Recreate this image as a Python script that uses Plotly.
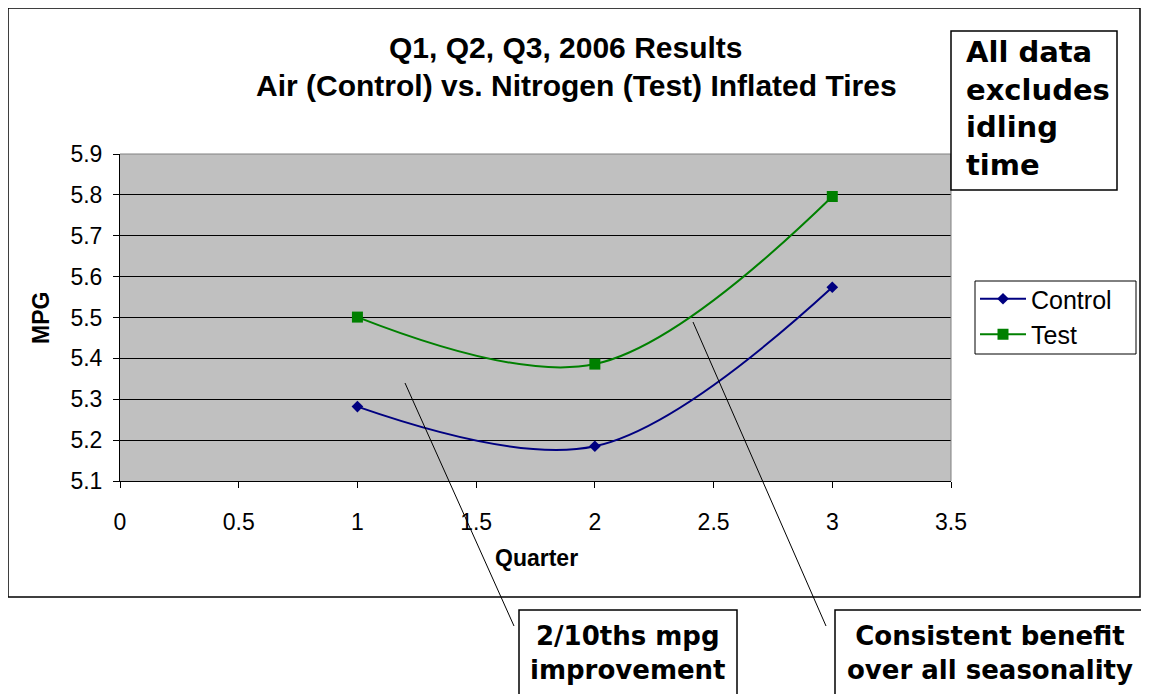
import plotly.graph_objects as go

# the page puts the figure 8px in from the top-left corner
OFF = 8
W, H = 1149 - OFF, 694 - OFF

# data
quarters = [1, 2, 3]
control = [5.282, 5.185, 5.574]
test = [5.501, 5.386, 5.796]
x_ticks = [0, 0.5, 1, 1.5, 2, 2.5, 3, 3.5]
x_tick_text = ['0', '0.5', '1', '1.5', '2', '2.5', '3', '3.5']
y_ticks = [5.1, 5.2, 5.3, 5.4, 5.5, 5.6, 5.7, 5.8, 5.9]
y_tick_text = ['5.1', '5.2', '5.3', '5.4', '5.5', '5.6', '5.7', '5.8', '5.9']

# plot area in screen pixels
PL, PR, PT, PB = 120, 951, 154, 481


def fx(px):
    return (px - OFF) / W


def fy(py):
    return 1 - (py - OFF) / H


fig = go.Figure()

fig.add_trace(go.Scatter(x=quarters, y=control, name='Control', mode='lines+markers',
                         line=dict(color='#000080', width=2, shape='spline', smoothing=1.0),
                         marker=dict(symbol='diamond', size=9, color='#000080')))
fig.add_trace(go.Scatter(x=quarters, y=test, name='Test', mode='lines+markers',
                         line=dict(color='#008000', width=2, shape='spline', smoothing=1.0),
                         marker=dict(symbol='square', size=11, color='#008000')))

axis_font = dict(family='Liberation Sans, Arial', size=23, color='black')

fig.update_layout(
    width=W, height=H,
    margin=dict(l=0, r=0, t=0, b=0, autoexpand=False),
    paper_bgcolor='white',
    plot_bgcolor='#C0C0C0',
    showlegend=True,
    legend=dict(x=fx(975), y=fy(276), xanchor='left', yanchor='top',
                bgcolor='rgba(0,0,0,0)', borderwidth=0,
                font=dict(family='Liberation Sans, Arial', size=25, color='black'),
                tracegroupgap=0, itemwidth=46),
    xaxis=dict(domain=[fx(PL), fx(PR)], range=[0, 3.5], tickvals=x_ticks, ticktext=x_tick_text,
               showgrid=False, zeroline=False, showline=True, linecolor='black', linewidth=1,
               ticks='outside', ticklen=6, tickcolor='black', tickfont=axis_font,
               ticklabelstandoff=14, automargin=False),
    yaxis=dict(domain=[fy(PB), fy(PT)], range=[5.1, 5.9], tickvals=y_ticks, ticktext=y_tick_text,
               showgrid=True, gridcolor='black', gridwidth=1, zeroline=False,
               showline=True, linecolor='black', linewidth=1,
               ticks='outside', ticklen=6, tickcolor='black', tickfont=axis_font,
               ticklabelstandoff=6, automargin=False),
)

shapes = []
# outer chart border
shapes.append(dict(type='rect', xref='paper', yref='paper', x0=fx(8), x1=fx(1140), y0=fy(597), y1=fy(8),
                   line=dict(color='black', width=1.5), fillcolor='rgba(0,0,0,0)'))
# gray top/right plot border
shapes.append(dict(type='path', xref='paper', yref='paper',
                   path=f'M {fx(PL)},{fy(PT)} L {fx(PR)},{fy(PT)} L {fx(PR)},{fy(PB)}',
                   line=dict(color='#808080', width=1), layer='above'))
# legend frame
shapes.append(dict(type='rect', xref='paper', yref='paper', x0=fx(975), x1=fx(1136), y0=fy(354), y1=fy(281),
                   line=dict(color='black', width=1), fillcolor='white'))
# "All data" box
shapes.append(dict(type='rect', xref='paper', yref='paper', x0=fx(951), x1=fx(1117), y0=fy(190), y1=fy(31),
                   line=dict(color='black', width=1.5), fillcolor='white', layer='above'))
# bottom callout boxes
shapes.append(dict(type='rect', xref='paper', yref='paper', x0=fx(519), x1=fx(737), y0=fy(700), y1=fy(610),
                   line=dict(color='black', width=1.5), fillcolor='white'))
shapes.append(dict(type='rect', xref='paper', yref='paper', x0=fx(835), x1=fx(1146), y0=fy(700), y1=fy(610),
                   line=dict(color='black', width=1.5), fillcolor='white'))
# callout pointer lines
shapes.append(dict(type='line', xref='paper', yref='paper', x0=fx(405), y0=fy(383), x1=fx(514), y1=fy(626),
                   line=dict(color='black', width=1), layer='above'))
shapes.append(dict(type='line', xref='paper', yref='paper', x0=fx(693), y0=fy(322), x1=fx(826), y1=fy(626),
                   line=dict(color='black', width=1), layer='above'))
fig.update_layout(shapes=shapes)

title_font = dict(family='Liberation Sans, Arial', size=30, color='black')
box_font = dict(family='DejaVu Sans, Tahoma, Verdana', size=26, color='black')
label_font = dict(family='Liberation Sans, Arial', size=23, color='black')

annotations = [
    dict(text='<b>Q1, Q2, Q3, 2006 Results</b>', x=fx(566), y=fy(47), font=title_font),
    dict(text='<b>Air (Control) vs. Nitrogen (Test) Inflated Tires</b>', x=fx(576), y=fy(86), font=title_font),
    dict(text='<b>Quarter</b>', x=fx(536), y=fy(558), font=label_font),
    dict(text='<b>MPG</b>', x=fx(41), y=fy(318), textangle=-90, font=label_font),
    dict(text='<b>All data<br>excludes<br>idling<br>time</b>', x=fx(964), y=fy(109), xanchor='left', align='left',
         font=dict(family='DejaVu Sans, Tahoma, Verdana', size=29, color='black')),
    dict(text='<b>2/10ths mpg<br>improvement</b>', x=fx(628), y=fy(653), font=box_font),
    dict(text='<b>Consistent benefit<br>over all seasonality</b>', x=fx(990), y=fy(653), font=box_font),
]
for a in annotations:
    a.setdefault('xref', 'paper')
    a.setdefault('yref', 'paper')
    a.setdefault('xanchor', 'center')
    a.setdefault('yanchor', 'middle')
    a.setdefault('showarrow', False)
fig.update_layout(annotations=annotations)

fig.write_html('out.html')
